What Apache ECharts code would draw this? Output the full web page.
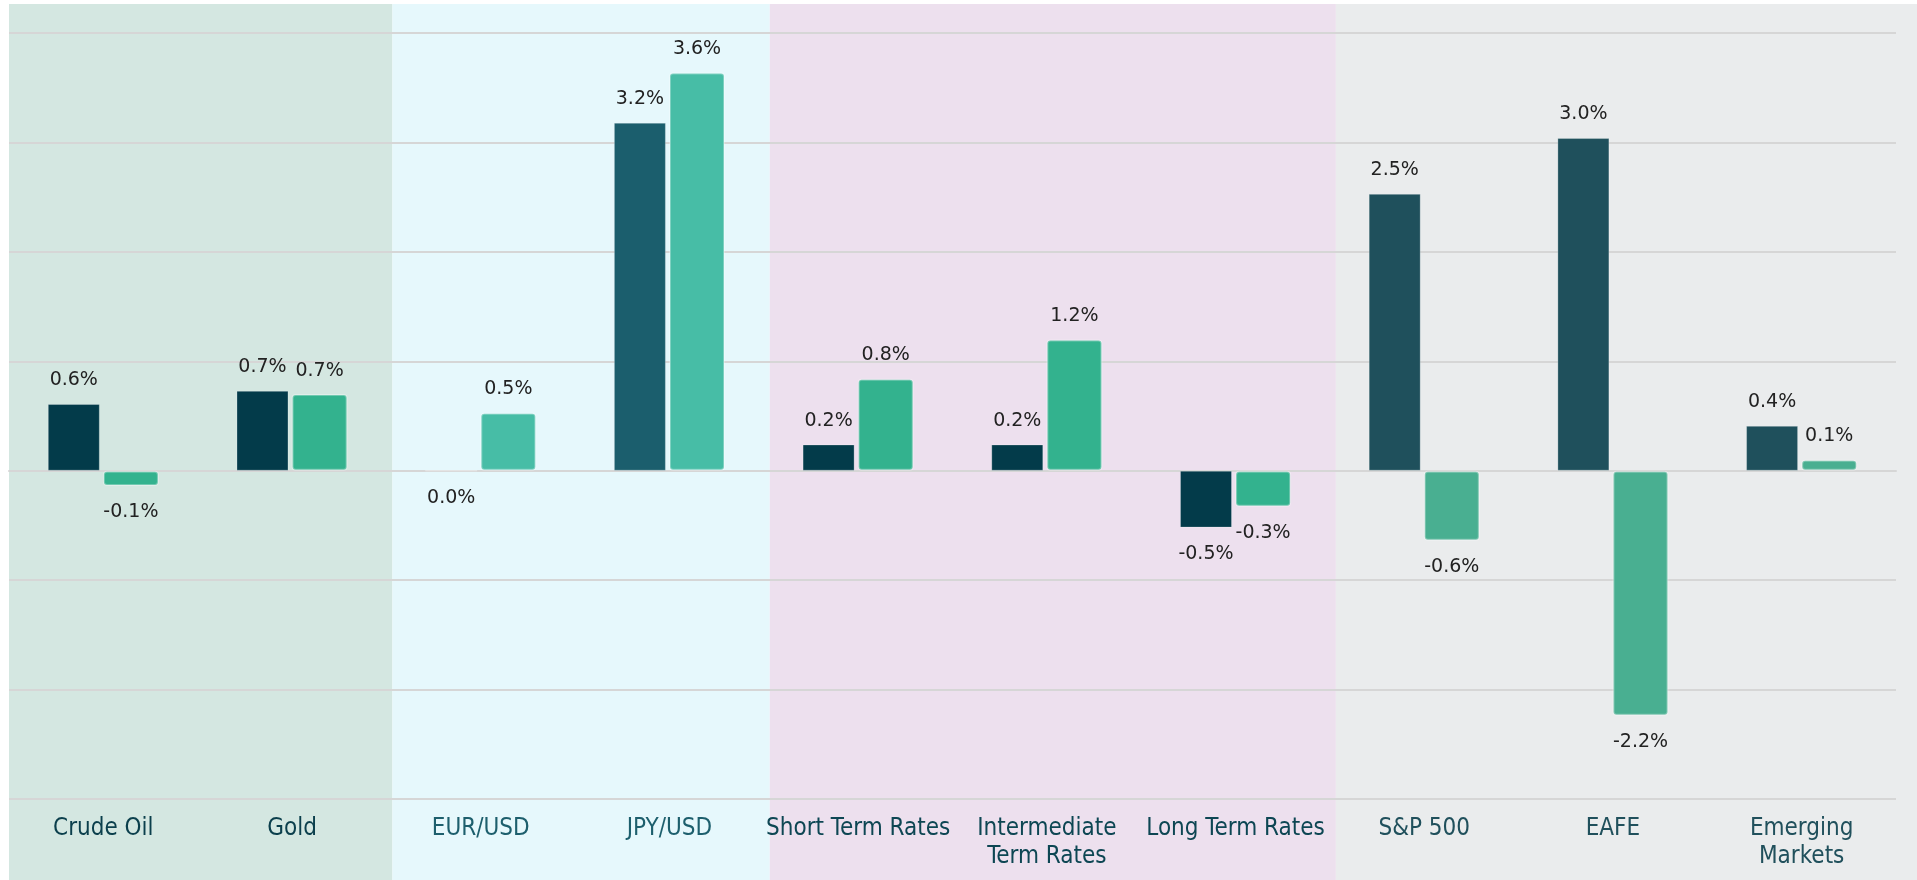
<!DOCTYPE html>
<html>
<head>
<meta charset="utf-8">
<script src="https://cdn.jsdelivr.net/npm/echarts@6/dist/echarts.min.js"></script>
<style>
  html, body { margin: 0; padding: 0; background: #fff; }
  #myCharts { width: 1917px; height: 880px; }
</style>
</head>
<body>
<div id="myCharts"></div>
<script>
// categories + values
const categories = ["Crude Oil", "Gold", "EUR/USD", "JPY/USD", "Short Term Rates",
  "Intermediate\nTerm Rates", "Long Term Rates", "S&P 500", "EAFE", "Emerging\nMarkets"];
const darkValues = [0.61, 0.73, 0.0, 3.18, 0.24, 0.24, -0.52, 2.53, 3.04, 0.41];
const tealValues = [-0.14, 0.70, 0.53, 3.64, 0.84, 1.2, -0.33, -0.64, -2.24, 0.1];
const yMin = -3;
const yMax = 4;
// which categories sit in each shaded band
const groupStart = [0, 2, 4, 7];
const groupEnd = [2, 4, 7, 10];

// colours per band
const bandColors = ["#d4e7e1", "#e6f8fc", "#ede0ee", "#eaeced"];
const darkColors = ["#033b4a", "#1b5e6d", "#033b4a", "#1f505c"];
const tealColors = ["#33b28e", "#47bda6", "#33b28e", "#49af91"];
const labelColors = ["#0b3f4c", "#1d5f6d", "#0d4653", "#20505c"];

function groupOf(i) {
  for (let g = 0; g < groupStart.length; g++) {
    if (i >= groupStart[g] && i < groupEnd[g]) return g;
  }
  return 0;
}

// label above positive bars, below zero/negative ones
function barLabel(v) {
  return v > 0 ? { position: "top", distance: 14 } : { position: "bottom", distance: 17 };
}

const valueLabel = {
  show: true,
  color: "#222",
  fontSize: 19,
  fontFamily: "'DejaVu Sans', sans-serif",
  formatter: (p) => p.value.toFixed(1) + "%",
};

const myCharts = echarts.init(document.getElementById("myCharts"));

let option = {
  animation: false,
  grid: {
    left: 9,
    right: 21,
    top: 33,
    bottom: 81,
    outerBoundsMode: "none",
  },
  xAxis: {
    type: "category",
    data: categories.map((c, i) => ({
      value: c,
      textStyle: { color: labelColors[groupOf(i)] },
    })),
    axisLine: { lineStyle: { color: "#d6d6d6", width: 2 } },
    axisTick: { show: false },
    axisLabel: {
      interval: 0,
      margin: 16,
      fontSize: 24,
      lineHeight: 28,
      fontFamily: "'DejaVu Sans Condensed', 'DejaVu Sans', sans-serif",
    },
  },
  yAxis: {
    type: "value",
    min: yMin,
    max: yMax,
    interval: 1,
    axisLabel: { show: false },
    axisLine: { show: false },
    axisTick: { show: false },
    splitLine: { lineStyle: { color: "#d6d6d6", width: 2 } },
  },
  series: [
    {
      type: "bar",
      barWidth: 52,
      barGap: "6%",
      data: darkValues.map((v, i) => ({
        value: v,
        itemStyle: { color: darkColors[groupOf(i)] },
        label: barLabel(v),
      })),
      itemStyle: { borderColor: "rgba(255,255,255,0.25)", borderWidth: 1 },
      label: valueLabel,
    },
    {
      type: "bar",
      barWidth: 56,
      data: tealValues.map((v, i) => ({
        value: v,
        itemStyle: { color: tealColors[groupOf(i)] },
        label: barLabel(v),
      })),
      itemStyle: { borderColor: "rgba(255,255,255,0.3)", borderWidth: 2, borderRadius: 3 },
      label: valueLabel,
    },
  ],
};

myCharts.setOption(option);

// background bands, positioned from the category axis
function drawBands() {
  const px = (i) => myCharts.convertToPixel({ xAxisIndex: 0 }, i);
  const bw = px(1) - px(0);
  const W = myCharts.getWidth();
  const H = myCharts.getHeight();
  const edges = groupStart.map((s, g) => (g === 0 ? px(s) - bw / 2 : px(s) - bw / 2 + 6));
  edges.push(W);
  const rects = groupStart.map((s, g) => ({
    type: "rect",
    z: -10,
    silent: true,
    shape: { x: edges[g], y: 4, width: edges[g + 1] - edges[g], height: H - 4 },
    style: { fill: bandColors[g] },
  }));
  myCharts.setOption({ graphic: rects });
}
drawBands();
</script>
</body>
</html>
